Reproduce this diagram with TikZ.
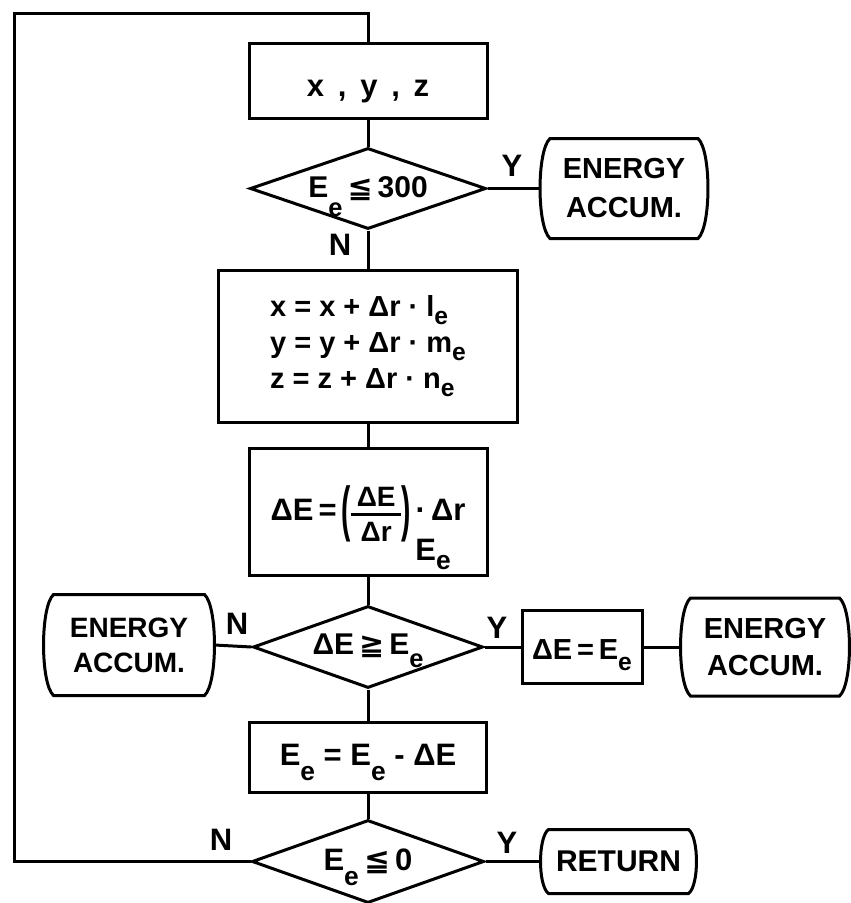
\documentclass[tikz,border=0pt]{standalone}
\usepackage{fontspec}
\usepackage{amsmath}
\usepackage{graphicx}
\setmainfont{Liberation Sans}
\newfontfamily\dvs{DejaVu Sans}
\usetikzlibrary{shapes.geometric,calc}
\newcommand\sbs[2][0.55em]{\raisebox{-#1}{\scalebox{0.85}{#2}}}
\newcommand\myle{{\dvs\bfseries ≦}}
\newcommand\myge{{\dvs\bfseries ≧}}
\newcommand\tallparen[1]{\raisebox{-9pt}{\scalebox{0.9}[1.95]{#1}}}
\newcommand\myfrac[2]{{\fontsize{28}{28}\selectfont$\vcenter{\hbox to 50pt{\hss #1\hss}\kern6.5pt\hrule height 2.5pt\kern6.5pt\hbox to 50pt{\hss #2\hss}}$}}
\newcommand\termout[2]{%
  \draw ([xshift=#2]#1.north west) -- ([xshift=-#2]#1.north east)
    .. controls ($(#1.north east)!0.12!(#1.south east)+(0.33*#2,0)$) and ($(#1.north east)!0.88!(#1.south east)+(0.33*#2,0)$) .. ([xshift=-#2]#1.south east)
    -- ([xshift=#2]#1.south west)
    .. controls ($(#1.south west)!0.12!(#1.north west)+(-0.33*#2,0)$) and ($(#1.south west)!0.88!(#1.north west)+(-0.33*#2,0)$) .. ([xshift=#2]#1.north west) -- cycle;}
\tikzset{
  box/.style={draw, rectangle, inner sep=0pt},
  dec/.style={draw, diamond, aspect=2.8, inner sep=0pt},
  term/.style={rectangle, inner sep=0pt, align=center},
  lab/.style={inner sep=0pt, font=\bfseries\fontsize{31}{31}\selectfont}
}
\begin{document}
\begin{tikzpicture}[x=1pt,y=-1pt,line width=3pt]
\useasboundingbox (0,0) rectangle (851,903);
\fill[white] (0,0) rectangle (851,903);
\clip (0,0) rectangle (851,903);

\node[box, minimum width=238pt, minimum height=75pt, font=\bfseries\fontsize{31}{31}\selectfont] (b1) at (368,80.5) {\smash{\raisebox{-16pt}{x\,\ ,\ \,y\,\ ,\ \,z}}};
\node[dec, minimum width=236pt, minimum height=81pt, font=\bfseries\fontsize{30}{30}\selectfont] (d1) at (368,188.5) {\smash{\raisebox{-8.5pt}{E\sbs[0.65em]{e}\,\myle\,300}}};
\node[term, minimum width=165pt, minimum height=97pt, font=\bfseries\fontsize{29}{39}\selectfont] (t1) at (624,188.5) {ENERGY\\ACCUM.};
\node[box, minimum width=299pt, minimum height=152pt, font=\bfseries\fontsize{29}{36}\selectfont, align=left] (b2) at (368,346) {x = x + Δr · l\sbs[0.28em]{e}\\y = y + Δr · m\sbs[0.28em]{e}\\z = z + Δr · n\sbs[0.28em]{e}};
\node[box, minimum width=238pt, minimum height=127pt, font=\bfseries\fontsize{31}{31}\selectfont] (b3) at (368,512) {\smash{\raisebox{-8.5pt}{ΔE\,=\,\tallparen{(}\myfrac{ΔE}{Δr}\tallparen{)}\rlap{\hspace{5pt}\raisebox{-40pt}{E\sbs[0.3em]{e}}}\,·\,Δr}}};
\node[dec, minimum width=230pt, minimum height=82pt, font=\bfseries\fontsize{30}{30}\selectfont] (d2) at (368,647) {\smash{\raisebox{-7pt}{ΔE\,\myge\,E\sbs[0.45em]{e}}}};
\node[term, minimum width=168pt, minimum height=98pt, font=\bfseries\fontsize{28}{35}\selectfont] (t2) at (129,645) {ENERGY\\ACCUM.};
\node[box, minimum width=120pt, minimum height=73pt, font=\bfseries\fontsize{29}{29}\selectfont] (b4) at (582,647) {\smash{\raisebox{-12pt}{ΔE\,=\,E\sbs[0.4em]{e}}}};
\node[term, minimum width=166pt, minimum height=95pt, font=\bfseries\fontsize{29}{37}\selectfont] (t3) at (765,647) {ENERGY\\ACCUM.};
\node[box, minimum width=237pt, minimum height=70pt, font=\bfseries\fontsize{31}{31}\selectfont] (b5) at (368,757) {\smash{\raisebox{-8pt}{E\sbs[0.5em]{e} = E\sbs[0.5em]{e} - ΔE}}};
\node[dec, minimum width=232pt, minimum height=83pt, font=\bfseries\fontsize{31}{31}\selectfont] (d3) at (368,861.5) {\smash{\raisebox{-8.5pt}{E\sbs[0.5em]{e}\,\myle\,0}}};
\node[term, minimum width=153pt, minimum height=61pt, font=\bfseries\fontsize{30}{30}\selectfont] (t4) at (618.5,861.5) {RETURN};

\termout{t1}{10pt}
\termout{t2}{10pt}
\termout{t3}{10pt}
\termout{t4}{8pt}

\node[lab] (y1) at (512,166) {Y};
\node[lab] (n1) at (340,245) {N};
\node[lab] (n2) at (237,624) {N};
\node[lab] (y2) at (497,628) {Y};
\node[lab] (n3) at (221,840) {N};
\node[lab] (y3) at (507,843) {Y};

\coordinate (lp) at (14,13);

\draw (b1.south) -- (d1.north);
\draw (d1.south) -- (b2.north);
\draw (b2.south) -- (b3.north);
\draw (b3.south) -- (d2.north);
\draw (d2.south) -- (b5.north);
\draw (b5.south) -- (d3.north);
\draw (d1.east) -- (t1.west);
\draw (d2.west) -- (t2.east);
\draw (d2.east) -- (b4.west);
\draw (b4.east) -- (t3.west);
\draw (d3.east) -- (t4.west);
\draw (d3.west) -| (lp) -| (b1.north);
\end{tikzpicture}
\end{document}
